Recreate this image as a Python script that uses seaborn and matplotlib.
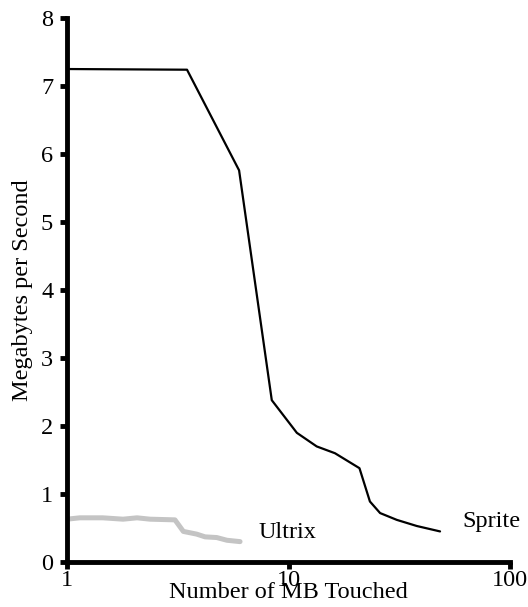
import pandas as pd
import seaborn as sns
import matplotlib.pyplot as plt
from matplotlib.ticker import FixedLocator, NullLocator

# valores
sprite_mb = [1.0, 3.48, 5.98, 8.40, 10.9, 13.4, 16.2, 20.9, 23.3, 25.9, 30.8, 37.9, 48.3]
sprite_mbs = [7.25, 7.24, 5.76, 2.38, 1.90, 1.70, 1.60, 1.38, 0.89, 0.72, 0.62, 0.53, 0.45]

ultrix_mb = [1.0, 1.14, 1.45, 1.79, 2.07, 2.37, 3.07, 3.35, 3.85, 4.2, 4.74, 5.27, 6.04]
ultrix_mbs = [0.63, 0.65, 0.65, 0.63, 0.65, 0.63, 0.62, 0.45, 0.41, 0.37, 0.36, 0.32, 0.30]

x_ticks = [1, 10, 100]
y_ticks = [0, 1, 2, 3, 4, 5, 6, 7, 8]

datos = pd.concat([
    pd.DataFrame({'mb': sprite_mb, 'mbs': sprite_mbs, 'sistema': 'Sprite'}),
    pd.DataFrame({'mb': ultrix_mb, 'mbs': ultrix_mbs, 'sistema': 'Ultrix'}),
])

sns.set_style('ticks', {'axes.edgecolor': 'black', 'text.color': 'black',
                        'xtick.color': 'black', 'ytick.color': 'black',
                        'axes.labelcolor': 'black'})
plt.rcParams['font.family'] = ['Liberation Serif', 'DejaVu Serif']

fig = plt.figure(figsize=(5.28, 6.07), dpi=100)
ax = fig.add_axes([0.127, 0.0741, 0.839, 0.8962])

sns.lineplot(data=datos[datos['sistema'] == 'Ultrix'], x='mb', y='mbs',
             color='#c4c4c4', linewidth=3.6, ax=ax, estimator=None, sort=False)
sns.lineplot(data=datos[datos['sistema'] == 'Sprite'], x='mb', y='mbs',
             color='black', linewidth=1.6, ax=ax, estimator=None, sort=False)

ax.set_xscale('log')
ax.set_xlim(1, 100)
ax.set_ylim(0, 8)
ax.xaxis.set_major_locator(FixedLocator(x_ticks))
ax.xaxis.set_minor_locator(NullLocator())
ax.set_xticklabels([str(t) for t in x_ticks])
ax.set_yticks(y_ticks)
ax.set_yticklabels([str(t) for t in y_ticks])

sns.despine(ax=ax)
for lado in ['left', 'bottom']:
    ax.spines[lado].set_linewidth(3.5)
    ax.spines[lado].set_capstyle('projecting')
ax.tick_params(axis='both', which='major', length=5, width=3.5, labelsize=17.5,
               colors='black')
ax.tick_params(axis='y', pad=5)
ax.tick_params(axis='x', pad=1)

ax.set_xlabel('Number of MB Touched', fontsize=17.5, labelpad=-7)
ax.set_ylabel('Megabytes per Second', fontsize=17.5, labelpad=6)

ax.text(7.3, 0.43, 'Ultrix', fontsize=17.5, va='center', ha='left')
ax.text(61, 0.59, 'Sprite', fontsize=17.5, va='center', ha='left')

fig.savefig('out.png', dpi=100)
